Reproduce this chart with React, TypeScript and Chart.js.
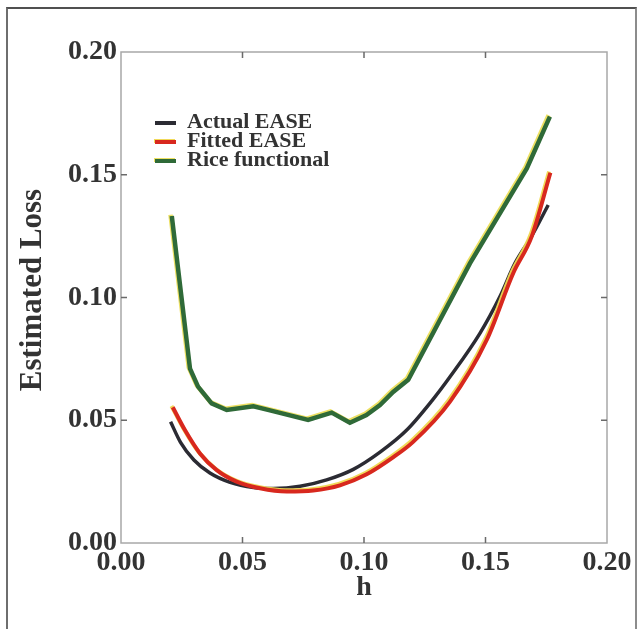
import { useEffect, useRef } from "react";
import { Chart, registerables } from "chart.js";

Chart.register(...registerables);

const xTickValues = [0, 0.05, 0.1, 0.15, 0.2];
const yTickValues = [0, 0.05, 0.1, 0.15, 0.2];

const actualH = [0.0204, 0.0245, 0.03, 0.0366, 0.0449, 0.0545, 0.0627, 0.0737, 0.0846, 0.0956, 0.1066, 0.1176, 0.128, 0.1354, 0.1477, 0.156, 0.1621, 0.169, 0.1758];
const actualLoss = [0.0494, 0.041, 0.0338, 0.0285, 0.0247, 0.0226, 0.0222, 0.0231, 0.0257, 0.03, 0.037, 0.046, 0.058, 0.0677, 0.0854, 0.1005, 0.1139, 0.125, 0.1377];

const fittedH = [0.0213, 0.0263, 0.0325, 0.0394, 0.0476, 0.0572, 0.0682, 0.0791, 0.0901, 0.1011, 0.1121, 0.12, 0.1354, 0.1505, 0.1614, 0.169, 0.1767];
const fittedLoss = [0.0553, 0.046, 0.0365, 0.0297, 0.025, 0.0223, 0.021, 0.0214, 0.0235, 0.028, 0.035, 0.041, 0.0576, 0.0827, 0.1099, 0.1248, 0.1508];

const riceH = [0.0209, 0.0284, 0.0317, 0.0373, 0.0435, 0.0545, 0.0613, 0.077, 0.0867, 0.0942, 0.101, 0.1066, 0.112, 0.1182, 0.1436, 0.167, 0.1765];
const riceLoss = [0.1332, 0.071, 0.0637, 0.0569, 0.0542, 0.0557, 0.054, 0.0501, 0.0531, 0.049, 0.0521, 0.0562, 0.0615, 0.0665, 0.1139, 0.1526, 0.1737];

const seriesLabels = ["Actual EASE", "Fitted EASE", "Rice functional"];
const xTitle = "h";
const yTitle = "Estimated Loss";

const FONT = "'Liberation Serif', 'Times New Roman', serif";
const TEXT = "#333333";

const toPoints = (xs: number[], ys: number[]) => xs.map((x, i) => ({ x, y: ys[i] }));

const framePlugin = {
  id: "frameTicks",
  beforeDatasetsDraw(chart: any) {
    const { ctx, chartArea, scales } = chart;
    const { left, right, top, bottom } = chartArea;
    ctx.save();
    ctx.strokeStyle = "#a8a8a8";
    ctx.lineWidth = 1.5;
    ctx.strokeRect(left, top, right - left, bottom - top);
    ctx.strokeStyle = "#6a6a6a";
    ctx.lineWidth = 1.5;
    const len = 6;
    xTickValues.slice(1, -1).forEach((v) => {
      const px = scales.x.getPixelForValue(v);
      ctx.beginPath();
      ctx.moveTo(px, bottom);
      ctx.lineTo(px, bottom - len);
      ctx.moveTo(px, top);
      ctx.lineTo(px, top + len);
      ctx.stroke();
    });
    yTickValues.slice(1, -1).forEach((v) => {
      const py = scales.y.getPixelForValue(v);
      ctx.beginPath();
      ctx.moveTo(left, py);
      ctx.lineTo(left + len, py);
      ctx.moveTo(right, py);
      ctx.lineTo(right - len, py);
      ctx.stroke();
    });
    ctx.restore();
  },
  beforeDatasetDraw(chart: any, args: any) {
    const ds = chart.data.datasets[args.index];
    const ctx = chart.ctx;
    ctx.save();
    if (ds.edgeColor) {
      ctx.shadowColor = ds.edgeColor;
      ctx.shadowOffsetX = -1.3;
      ctx.shadowOffsetY = -1.3;
      ctx.shadowBlur = 0.5;
    }
  },
  afterDatasetDraw(chart: any) {
    chart.ctx.restore();
  },
  afterDraw(chart: any) {
    const { ctx, chartArea } = chart;
    // y-axis title
    ctx.save();
    ctx.font = `bold 31px ${FONT}`;
    ctx.fillStyle = TEXT;
    ctx.textAlign = "center";
    ctx.textBaseline = "middle";
    ctx.translate(33, chartArea.top + 238);
    ctx.rotate(-Math.PI / 2);
    ctx.fillText(yTitle, 0, 0);
    ctx.restore();

    // legend
    const x0 = chartArea.left + 34;
    const x1 = chartArea.left + 55;
    const tx = chartArea.left + 66;
    const baselines = [128, 147, 166];
    ctx.save();
    ctx.font = `bold 22px ${FONT}`;
    ctx.textBaseline = "alphabetic";
    ctx.textAlign = "left";
    chart.data.datasets.forEach((ds: any, i: number) => {
      const by = baselines[i];
      const ly = by - 5;
      ctx.save();
      if (ds.edgeColor) {
        ctx.shadowColor = ds.edgeColor;
        ctx.shadowOffsetX = -1;
        ctx.shadowOffsetY = -1;
      }
      ctx.strokeStyle = ds.borderColor;
      ctx.lineWidth = 4;
      ctx.beginPath();
      ctx.moveTo(x0, ly);
      ctx.lineTo(x1, ly);
      ctx.stroke();
      ctx.restore();
      ctx.fillStyle = TEXT;
      ctx.fillText(ds.label, tx, by);
    });
    ctx.restore();
  },
};

export default function App() {
  const ref = useRef<HTMLCanvasElement>(null);

  useEffect(() => {
    if (!ref.current) return;
    const chart = new Chart(ref.current, {
      type: "line",
      data: {
        datasets: [
          {
            label: seriesLabels[0],
            data: toPoints(actualH, actualLoss),
            borderColor: "#2b2b33",
            borderWidth: 3.5,
            pointRadius: 0,
            cubicInterpolationMode: "monotone",
            order: 3,
          } as any,
          {
            label: seriesLabels[1],
            data: toPoints(fittedH, fittedLoss),
            borderColor: "#d8281e",
            edgeColor: "rgba(240,215,80,0.95)",
            borderWidth: 4,
            pointRadius: 0,
            cubicInterpolationMode: "monotone",
            order: 2,
          } as any,
          {
            label: seriesLabels[2],
            data: toPoints(riceH, riceLoss),
            borderColor: "#2f6a38",
            edgeColor: "rgba(236,222,90,0.95)",
            borderWidth: 4.5,
            pointRadius: 0,
            tension: 0,
            order: 1,
          } as any,
        ],
      },
      options: {
        animation: false,
        responsive: false,
        devicePixelRatio: 1,
        layout: { padding: { top: 52, right: 36, left: 0, bottom: 0 } },
        plugins: { legend: { display: false }, tooltip: { enabled: false } },
        scales: {
          x: {
            type: "linear",
            min: 0,
            max: 0.2,
            afterFit: (s: any) => {
              s.height = 86;
            },
            afterBuildTicks: (s: any) => {
              s.ticks = xTickValues.map((v) => ({ value: v }));
            },
            ticks: {
              callback: (v: any) => Number(v).toFixed(2),
              font: { family: FONT, size: 28, weight: "bold" },
              color: TEXT,
              padding: 3,
              maxRotation: 0,
              autoSkip: false,
            },
            grid: { display: false, drawTicks: false },
            border: { display: false },
            title: {
              display: true,
              text: xTitle,
              font: { family: FONT, size: 28, weight: "bold" },
              color: TEXT,
              padding: { top: 0, bottom: 24 },
            },
          },
          y: {
            type: "linear",
            min: 0,
            max: 0.2,
            afterFit: (s: any) => {
              s.width = 121;
            },
            afterBuildTicks: (s: any) => {
              s.ticks = yTickValues.map((v) => ({ value: v }));
            },
            ticks: {
              callback: (v: any) => Number(v).toFixed(2),
              font: { family: FONT, size: 28, weight: "bold" },
              color: TEXT,
              padding: 4,
              autoSkip: false,
            },
            grid: { display: false, drawTicks: false },
            border: { display: false },
            title: { display: false },
          },
        },
      },
      plugins: [framePlugin],
    } as any);
    return () => chart.destroy();
  }, []);

  return (
    <div
      style={{
        position: "fixed",
        left: 0,
        top: 0,
        width: 643,
        height: 629,
        overflow: "hidden",
        background: "#ffffff",
      }}
    >
      <div
        style={{
          position: "absolute",
          left: 6,
          top: 7,
          width: 627,
          height: 700,
          borderTop: "2px solid #505050",
          borderLeft: "2px solid #6e6e6e",
          borderRight: "2px solid #8c8c8c",
        }}
      />
      <canvas
        ref={ref}
        width={643}
        height={629}
        style={{ position: "absolute", left: 0, top: 0, width: 643, height: 629 }}
      />
    </div>
  );
}
